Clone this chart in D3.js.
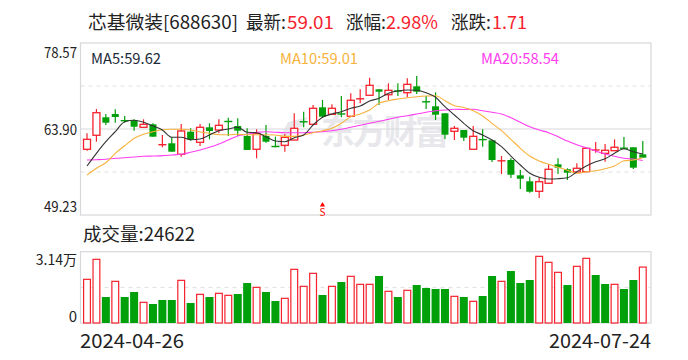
<!DOCTYPE html>
<html><head><meta charset="utf-8">
<script src="https://cdn.jsdelivr.net/npm/d3@7/dist/d3.min.js"></script>
<style>html,body{margin:0;padding:0;background:#fff}svg{display:block}text{font-family:"Noto Sans CJK SC","Noto Sans",sans-serif}</style>
</head><body><svg id="c" width="688" height="360"></svg>
<script>
const open_=[60.44,62.83,65.9,66.46,65.44,65.38,64.19,64.7,61.29,61.46,59.58,63.44,61.63,64.19,63.73,65.3,64.41,62.71,60.44,62.71,61.03,61.12,62.02,65.25,64.7,67.6,66.41,66.58,66.07,69.1,69.65,70.67,69.75,70.5,70.09,71.18,68.66,67.77,66.58,63.51,63.73,60.44,62.21,61.97,58.53,58.61,56,54.98,53.27,54.64,57.88,57.03,56.57,56.62,60.2,59.75,60.2,60.74,60.78,59.58];
const close_=[62.14,66.68,64.97,65.95,65.26,64.29,64.7,62.59,61.34,60.03,63.56,62.14,64.19,63.56,64.53,65.23,63.61,60.32,63.17,61.73,60.97,62.48,64.02,65.18,67.43,66,67.43,66.24,68.8,69.17,71.35,70.26,70.5,70.26,71.52,70.26,68.59,66.34,62.93,64.02,62.42,62.65,62.14,58.61,58.59,56.1,55.42,53.2,54.91,57.03,57.3,56.45,57.2,60.61,60.44,60.27,60.78,60.68,57.3,59.01];
const high_=[63.17,67.31,66.46,67.26,66.12,65.55,65.55,64.87,62.88,62.48,64.75,64.02,64.75,64.87,65.55,65.83,65.73,64.02,63.85,64.58,62.59,63.05,66.58,66.85,68,68.85,68.11,69.53,69.99,70.67,72.65,70.67,71.7,71.7,72.55,72.94,69.53,70.16,66.58,64.41,63.73,64.41,63.85,61.97,59.29,58.9,56.91,55.76,55.66,57.93,58.9,57.2,58.05,60.61,61.68,61.34,62.14,62.54,60.78,61.85];
const low_=[60.2,61.73,64.58,64.97,64.97,63.61,64.19,62.59,60.78,60.03,59.17,61.9,61,62.14,63.17,62.71,62.71,60.32,58.9,61.56,60.78,60.03,62.02,64.19,64.58,65.83,66.29,65.9,66.07,68.28,69.65,67.99,68.85,69.53,69.31,69.87,67.31,65.44,62.19,62.02,61.85,60.44,60.88,58.27,56.22,55.54,53.67,53.03,52.13,54.64,56.22,55.2,56.57,56.62,59.86,58.32,60.2,60.44,57.08,59.01];
const ma5=[57.59,59.75,61.73,63.44,65.15,65.38,65.04,64.41,63.73,62.48,62.48,62.07,62.19,62.88,63.61,63.9,64.19,63.34,63.27,62.59,61.85,61.73,62.42,62.88,64.58,65.9,66.46,66.85,67.43,67.82,68.68,69.14,69.99,70.38,70.55,70.5,70.09,69.31,67.7,66.29,64.87,63.61,62.88,62.02,60.88,59.29,57.76,56.34,55.66,55.37,55.42,55.59,56.62,57.59,58.32,58.83,59.75,60.54,60.03,59.62];
const ma10=[56.05,57.2,58.15,59.75,61.05,62.31,63,63.44,63.78,63.85,63.85,63.73,63.39,63.17,62.93,62.93,63,62.93,62.93,62.93,62.88,62.65,62.65,62.88,63.27,63.61,64.02,64.87,66,66.46,67.14,68.28,68.73,69.02,69.24,69.41,69.53,69.58,68.73,67.87,67.57,67.02,66.12,64.87,63.61,62.14,60.61,59.29,58.44,57.88,57.37,56.85,56.34,56.62,56.79,57.13,57.59,58.49,58.61,59.01];
const ma20=[58.61,58.66,58.73,58.9,59,59.12,59.24,59.29,59.35,59.46,59.58,59.93,60.32,60.78,61.34,62.02,62.71,63,63.34,63.44,63.34,63.27,63.27,63.27,63.34,63.44,63.61,63.85,64.19,64.53,64.87,65.21,65.55,65.9,66.17,66.46,66.75,67.02,67.14,67.26,67.23,67.26,67.02,66.75,66.46,65.83,65.04,64.29,63.73,63.27,62.59,61.85,61.22,60.71,60.15,59.64,59.24,58.9,58.78,58.54];
const volume=[19231,28039,11450,18350,11450,13652,9102,8368,10129,10129,18790,8808,12625,11450,13065,12184,12772,17616,15708,13652,9689,10863,23635,16148,21873,12331,16148,18056,20552,17029,17029,20699,13946,11450,14386,16735,15414,14974,14974,11744,11450,9542,11891,20699,18350,22901,17616,18937,29360,26718,22314,16735,24956,28479,21139,17176,17029,14974,18937,24622];
const volUp=[1,1,0,1,0,0,1,0,0,0,1,0,1,0,1,1,0,0,1,0,0,1,1,1,1,0,1,0,1,1,1,0,1,0,1,0,0,0,0,1,0,1,0,0,1,0,0,0,1,1,1,0,1,1,0,0,1,0,0,1];
const priceTicks=["78.57","63.90","49.23"];
const volTicks=["3.14万","0"];
const dateTicks=["2024-04-26","2024-07-24"];
const indexLabels=[["MA5:59.62","#1c2b3a"],["MA10:59.01","#f7b23b"],["MA20:58.54","#ff3cf0"]];

const RED="#f5222d",GREEN="#009f0a",GRID="#d8d8dc",DASH="#dedede";
const svg=d3.select("#c");
const L=80.5,R=651,T=43,B=215,VT=251.7,VB=323;
const days=d3.range(60);
const x=d3.scaleBand().domain(days).range([82.3,647.5]);
const cx=i=>x(i)+x.bandwidth()/2;
const y=d3.scaleLinear().domain([49.23,78.57]).range([B,T]);
const v=d3.scaleLinear().domain([0,31400]).range([VB,VT]);
const txt=(xp,yp,s,o={})=>svg.append("text").attr("x",xp).attr("y",yp).text(s)
  .attr("font-size",o.size||15).attr("fill",o.fill||"#222").attr("text-anchor",o.anchor||"start")
  .attr("dominant-baseline","central").attr("textLength",o.len||null).attr("lengthAdjust",o.len?"spacingAndGlyphs":null);

// watermark
const wm=svg.append("g").attr("fill","#e8e8ec");
wm.append("text").attr("x",321).attr("y",129.5).text("东方财富").attr("font-size",34).attr("font-weight",700)
  .attr("dominant-baseline","central").attr("textLength",128);
wm.append("path").attr("d","M275 147 L288 122 L308 117 L302 127 L296 127 L287 147Z");

// frames + grid
[[T,B],[VT,VB]].forEach(([a,b])=>svg.append("rect").attr("x",L).attr("y",a).attr("width",R-L).attr("height",b-a)
  .attr("fill","none").attr("stroke",GRID).attr("stroke-width",1.2));
svg.append("line").attr("x1",L).attr("x2",R).attr("y1",y(63.9)).attr("y2",y(63.9)).attr("stroke",GRID).attr("stroke-width",1.2);
[71.235,56.565].forEach(p=>svg.append("line").attr("x1",L).attr("x2",R).attr("y1",y(p)).attr("y2",y(p))
  .attr("stroke",DASH).attr("stroke-dasharray","4 4"));
svg.append("line").attr("x1",L).attr("x2",R).attr("y1",v(15700)).attr("y2",v(15700)).attr("stroke",DASH).attr("stroke-dasharray","4 4");

// candles
const g=svg.append("g").selectAll("g").data(days).join("g");
const col=i=>close_[i]>=open_[i]?RED:GREEN;
const bw=7;
g.append("line").attr("x1",cx).attr("x2",cx).attr("y1",i=>y(high_[i])).attr("y2",i=>y(low_[i])).attr("stroke",col).attr("stroke-width",1.2);
g.append("rect").attr("x",i=>cx(i)-bw/2).attr("width",bw)
  .attr("y",i=>y(Math.max(open_[i],close_[i])))
  .attr("height",i=>Math.max(1,Math.abs(y(open_[i])-y(close_[i]))))
  .attr("fill",i=>close_[i]>=open_[i]?"#fff":GREEN).attr("stroke",i=>close_[i]>=open_[i]?RED:"none").attr("stroke-width",1.3)
  .each(function(i){ if(Math.abs(y(open_[i])-y(close_[i]))<2){d3.select(this).attr("fill",col(i)).attr("stroke","none").attr("x",cx(i)-4).attr("width",8).attr("height",1.4);} });

// moving averages
const line=d3.line().x((d,i)=>cx(i)).y(d=>y(d)).curve(d3.curveMonotoneX);
[[ma20,"#ff3cf0"],[ma10,"#f7b23b"],[ma5,"#333333"]].forEach(([s,c])=>svg.append("path").attr("d",line(s)).attr("fill","none").attr("stroke",c).attr("stroke-width",1.1));

// volume
svg.append("g").selectAll("rect").data(days).join("rect")
  .attr("x",i=>cx(i)-(volUp[i]?3.4:4)).attr("width",i=>volUp[i]?6.8:8)
  .attr("y",i=>v(volume[i])).attr("height",i=>VB-v(volume[i]))
  .attr("fill",i=>volUp[i]?"#fff":"#00a00a").attr("stroke",i=>volUp[i]?RED:"none").attr("stroke-width",1.2);

// S marker
svg.append("path").attr("d",d3.symbol(d3.symbolTriangle,12)()).attr("transform",`translate(${cx(25)},205)`).attr("fill","#f00");
txt(cx(25),211,"S",{size:10,fill:"#f00",anchor:"middle"});

// text
txt(88,21,"芯基微装[688630]",{size:18,len:150});
txt(246,21,"最新:",{size:18,len:40});
txt(287,21,"59.01",{size:18,fill:RED,len:47});
txt(346,21,"涨幅:",{size:18,len:40});
txt(386,21,"2.98%",{size:18,fill:RED,len:52});
txt(451,21,"涨跌:",{size:18,len:40});
txt(492,21,"1.71",{size:18,fill:RED,len:35});
[91,280,481].forEach((xp,k)=>txt(xp,57,indexLabels[k][0],{size:15,fill:indexLabels[k][1],len:k?78:70}));
[51.5,128.5,205].forEach((yp,k)=>txt(77,yp,priceTicks[k],{anchor:"end",size:15,len:33}));
txt(83,232.5,"成交量:24622",{size:18,len:112});
txt(77,259,volTicks[0],{anchor:"end",size:14});
txt(77,315.5,volTicks[1],{anchor:"end",size:15});
txt(80,339.5,dateTicks[0],{size:19,len:104});
txt(549,339.5,dateTicks[1],{size:19,len:102});
</script></body></html>
